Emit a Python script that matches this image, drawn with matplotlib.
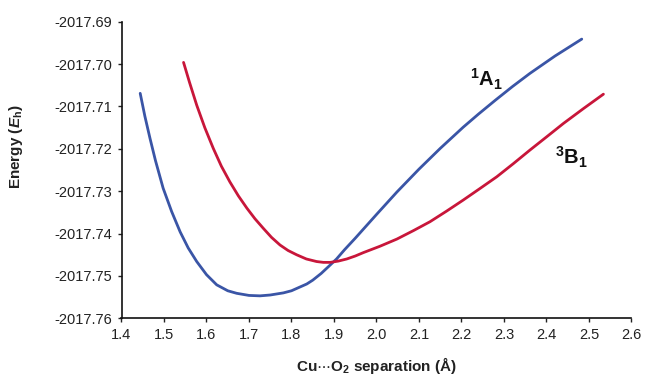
import matplotlib
matplotlib.use('Agg')
import matplotlib.pyplot as plt
from matplotlib.ticker import FuncFormatter

# ---- data ----
a1_sep = [1.444, 1.455, 1.467, 1.480, 1.498, 1.518, 1.538, 1.557, 1.577,
          1.600, 1.624, 1.650, 1.671, 1.700, 1.726, 1.750, 1.781, 1.800,
          1.836, 1.850, 1.870, 1.886, 1.906, 1.925, 1.950, 2.000, 2.048,
          2.100, 2.150, 2.204, 2.240, 2.280, 2.320, 2.361, 2.420, 2.483]
a1_energy = [-2017.7069, -2017.7123, -2017.7175, -2017.7228, -2017.7293,
             -2017.7348, -2017.7396, -2017.7434, -2017.7466, -2017.7497,
             -2017.7521, -2017.7535, -2017.7541, -2017.7546, -2017.7547,
             -2017.7545, -2017.7540, -2017.7535, -2017.7519, -2017.7510,
             -2017.7494, -2017.7479, -2017.7460, -2017.7438, -2017.7411,
             -2017.7355, -2017.7302, -2017.7248, -2017.7199, -2017.7149,
             -2017.7118, -2017.7085, -2017.7053, -2017.7022, -2017.6981,
             -2017.6941]

b1_sep = [1.546, 1.560, 1.577, 1.596, 1.616, 1.635, 1.655, 1.675, 1.695,
          1.714, 1.734, 1.753, 1.773, 1.792, 1.812, 1.835, 1.859, 1.875,
          1.891, 1.910, 1.930, 1.950, 1.969, 2.008, 2.048, 2.087, 2.126,
          2.165, 2.204, 2.243, 2.283, 2.322, 2.361, 2.400, 2.440, 2.487, 2.534]
b1_energy = [-2017.6996, -2017.7043, -2017.7097, -2017.7150, -2017.7199,
             -2017.7241, -2017.7278, -2017.7311, -2017.7340, -2017.7365,
             -2017.7388, -2017.7409, -2017.7427, -2017.7440, -2017.7450,
             -2017.7460, -2017.7466, -2017.7468, -2017.7468, -2017.7465,
             -2017.7460, -2017.7453, -2017.7445, -2017.7430, -2017.7413,
             -2017.7393, -2017.7372, -2017.7347, -2017.7321, -2017.7294,
             -2017.7266, -2017.7235, -2017.7203, -2017.7172, -2017.7140,
             -2017.7105, -2017.7071]

x_ticks = [1.4, 1.5, 1.6, 1.7, 1.8, 1.9, 2.0, 2.1, 2.2, 2.3, 2.4, 2.5, 2.6]
y_ticks = [-2017.76, -2017.75, -2017.74, -2017.73, -2017.72, -2017.71,
           -2017.70, -2017.69]

BLUE = '#3a55a6'
RED = '#c8163a'

plt.rcParams['font.family'] = ['Liberation Sans', 'DejaVu Sans']
plt.rcParams['mathtext.fontset'] = 'custom'
plt.rcParams['mathtext.rm'] = 'Liberation Sans'
plt.rcParams['mathtext.it'] = 'Liberation Sans:italic'
plt.rcParams['mathtext.bf'] = 'Liberation Sans:bold'
plt.rcParams['mathtext.bfit'] = 'Liberation Sans:bold:italic'

fig = plt.figure(figsize=(6.48, 3.77), dpi=100)
ax = fig.add_axes([0.1875, 0.1557, 0.787, 0.7867])

ax.plot(a1_sep, a1_energy, color=BLUE, linewidth=2.0, solid_capstyle='round',
        solid_joinstyle='round')
ax.plot(b1_sep, b1_energy, color=RED, linewidth=2.0, solid_capstyle='round',
        solid_joinstyle='round')

ax.text(2.22, -2017.7052, r'$^\mathbf{1}$A$_\mathbf{1}$', fontsize=14.5,
        fontweight='bold', ha='left', va='baseline', color='#111111')
ax.text(2.42, -2017.7236, r'$^\mathbf{3}$B$_\mathbf{1}$', fontsize=14.5,
        fontweight='bold', ha='left', va='baseline', color='#111111')

ax.set_xlim(1.4, 2.6)
ax.set_ylim(-2017.76, -2017.69)
ax.set_xticks(x_ticks)
ax.set_yticks(y_ticks)
ax.xaxis.set_major_formatter(FuncFormatter(lambda v, p: f'{v:.1f}'))
ax.yaxis.set_major_formatter(FuncFormatter(lambda v, p: f'{v:.2f}'))
ax.tick_params(direction='out', length=3, width=1.0, labelsize=10.5,
               colors='#222222', pad=4)

for side in ['top', 'right']:
    ax.spines[side].set_visible(False)
for side in ['left', 'bottom']:
    ax.spines[side].set_linewidth(1.2)
    ax.spines[side].set_color('#111111')

ax.set_xlabel(r'Cu$\cdots$O$_\mathbf{2}$ separation (Å)', fontsize=11,
              fontweight='bold', color='#222222')
ax.set_ylabel(r'Energy ($\mathbfit{E}_\mathbf{h}$)', fontsize=11,
              fontweight='bold', color='#222222')
ax.xaxis.set_label_coords(0.5, -0.125)
ax.yaxis.set_label_coords(-0.19, 0.58)

fig.savefig('out.png', dpi=100, facecolor='white')
